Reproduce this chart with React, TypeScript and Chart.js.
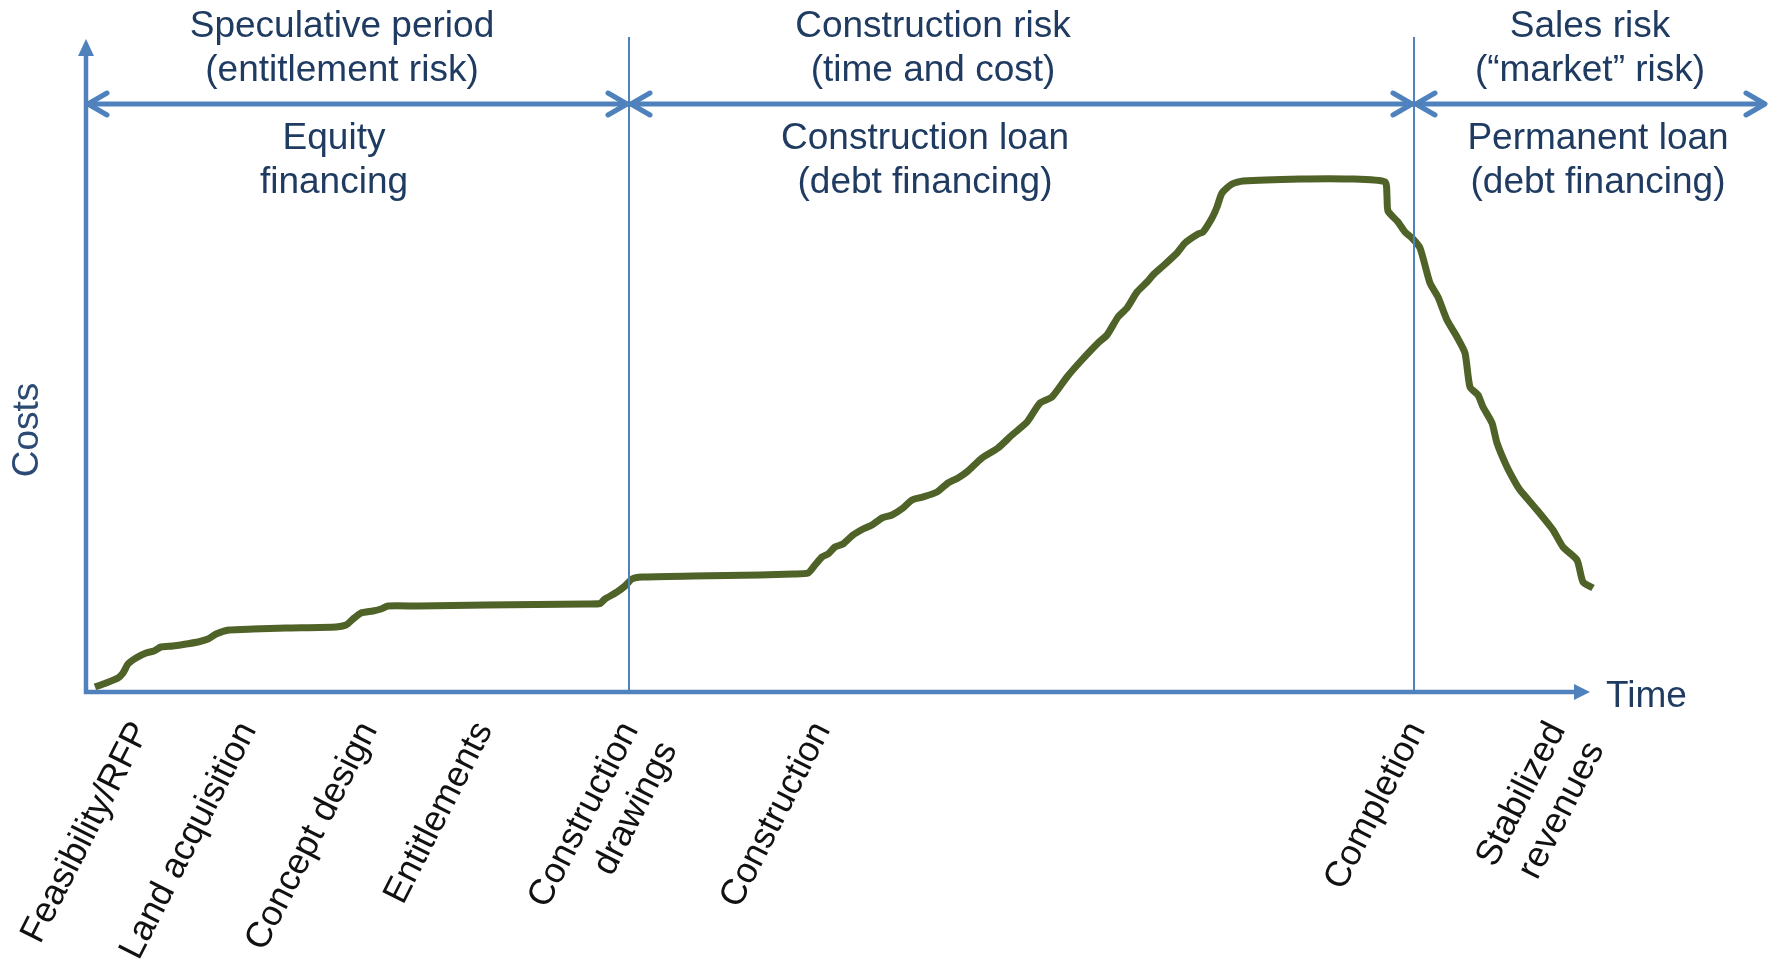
import React, { useEffect, useRef } from 'react';
import { Chart, registerables } from 'chart.js';

Chart.register(...registerables);

// Time (arbitrary units from the origin) and cumulative cost (arbitrary units)
const timeValues = [
  9, 20, 32, 37, 42, 50, 60, 68, 75, 87, 100, 112, 122, 130, 143, 167, 200, 250, 260, 267,
  275, 287, 295, 302, 333, 400, 500, 514, 519, 531, 539, 546, 556, 607, 674, 707, 722, 729,
  736, 742, 749, 757, 767, 777, 786, 796, 806, 817, 826, 837, 851, 862, 872, 882, 896, 912,
  926, 941, 954, 966, 981, 994, 1012, 1021, 1032, 1041, 1051, 1061, 1067, 1077, 1091, 1099,
  1112, 1117, 1126, 1131, 1136, 1146, 1157, 1214, 1264, 1299, 1301, 1302, 1312, 1319, 1326,
  1334, 1344, 1352, 1361, 1371, 1379, 1384, 1392, 1397, 1406, 1411, 1421, 1429, 1434, 1451,
  1467, 1477, 1491, 1497, 1507,
];
const costValues = [
  5, 9, 14, 19, 28, 34, 39, 41, 45, 46, 48, 50, 53, 58, 62, 63, 64, 65, 67, 73,
  79, 81, 83, 86, 86, 87, 88, 88.5, 93, 100, 106, 113, 115, 116, 117, 118, 119, 127,
  135, 138, 145, 148, 157, 163, 167, 174, 177, 184, 192, 195, 200, 209, 214, 221, 234, 244,
  257, 270, 289, 295, 315, 330, 349, 357, 375, 384, 400, 410, 417, 426, 439, 449,
  458, 460, 474, 485, 499, 508, 511, 513, 513, 510, 495, 481, 470, 460, 454,
  444, 409, 395, 372, 355, 339, 305, 297, 285, 269, 249, 225, 210, 202, 182,
  162, 145, 132, 110, 104,
];

// Milestones on the time axis
const milestoneValues = [55, 162, 283, 398, 544, 736, 1331, 1471];
const milestoneLabels: (string | string[])[] = [
  'Feasibility/RFP',
  'Land acquisition',
  'Concept design',
  'Entitlements',
  ['Construction', 'drawings'],
  'Construction',
  'Completion',
  ['Stabilized', 'revenues'],
];

// Phases
const phaseBoundaries = [2, 543, 1328, 1679];
const riskLabels = [
  ['Speculative period', '(entitlement risk)'],
  ['Construction risk', '(time and cost)'],
  ['Sales risk', '(\u201Cmarket\u201D risk)'],
];
const financingLabels = [
  ['Equity', 'financing'],
  ['Construction loan', '(debt financing)'],
  ['Permanent loan', '(debt financing)'],
];

const X_MAX = 1514;
const Y_MAX = 524;
const AXIS_ARROW_X = 1504;
const FONT = '"Liberation Sans", Arial, Helvetica, sans-serif';
const BLUE = '#4F81BD';
const TEXT_BLUE = '#1F3B61';

const riskCenters = [256, 847, 1504];
const financingCenters = [248, 839, 1512];

const overlayPlugin = {
  id: 'overlay',
  afterDraw(chart: any) {
    const { ctx, scales } = chart;
    const x = scales.x;
    const y = scales.y;
    const x0 = x.getPixelForValue(0);
    const y0 = y.getPixelForValue(0);
    ctx.save();

    // phase dividers
    ctx.strokeStyle = BLUE;
    ctx.lineWidth = 2;
    for (const b of [phaseBoundaries[1], phaseBoundaries[2]]) {
      const px = x.getPixelForValue(b);
      ctx.beginPath();
      ctx.moveTo(px, 37);
      ctx.lineTo(px, y0);
      ctx.stroke();
    }

    // axes
    ctx.lineWidth = 4.5;
    ctx.fillStyle = BLUE;
    ctx.beginPath();
    ctx.moveTo(x0, y0 + 2);
    ctx.lineTo(x0, 54);
    ctx.stroke();
    ctx.beginPath();
    ctx.moveTo(x0, 39);
    ctx.lineTo(x0 - 8, 56);
    ctx.lineTo(x0 + 8, 56);
    ctx.closePath();
    ctx.fill();

    const tip = x.getPixelForValue(AXIS_ARROW_X);
    ctx.beginPath();
    ctx.moveTo(x0 - 2, y0);
    ctx.lineTo(tip - 12, y0);
    ctx.stroke();
    ctx.beginPath();
    ctx.moveTo(tip, y0);
    ctx.lineTo(tip - 16, y0 - 8);
    ctx.lineTo(tip - 16, y0 + 8);
    ctx.closePath();
    ctx.fill();

    // top double arrows
    const ay = 104;
    ctx.lineWidth = 5;
    ctx.lineCap = 'round';
    ctx.lineJoin = 'round';
    const left = x.getPixelForValue(phaseBoundaries[0]);
    const right = x.getPixelForValue(phaseBoundaries[3]);
    ctx.beginPath();
    ctx.moveTo(left + 2, ay);
    ctx.lineTo(right - 2, ay);
    ctx.stroke();
    const chevron = (px: number, dir: number) => {
      ctx.beginPath();
      ctx.moveTo(px - dir * 19, ay - 11);
      ctx.lineTo(px, ay);
      ctx.lineTo(px - dir * 19, ay + 11);
      ctx.stroke();
    };
    for (let i = 0; i < phaseBoundaries.length - 1; i++) {
      chevron(x.getPixelForValue(phaseBoundaries[i]) + (i === 0 ? 0 : 2), -1);
      chevron(x.getPixelForValue(phaseBoundaries[i + 1]) - (i === phaseBoundaries.length - 2 ? 0 : 2), 1);
    }

    // texts
    ctx.fillStyle = TEXT_BLUE;
    ctx.font = `37px ${FONT}`;
    ctx.textAlign = 'center';
    ctx.textBaseline = 'middle';
    riskLabels.forEach((lines, i) => {
      const cx = x.getPixelForValue(riskCenters[i]);
      ctx.fillText(lines[0], cx, 27);
      ctx.fillText(lines[1], cx, 71);
    });
    financingLabels.forEach((lines, i) => {
      const cx = x.getPixelForValue(financingCenters[i]);
      ctx.fillText(lines[0], cx, 139);
      ctx.fillText(lines[1], cx, 183);
    });
    ctx.textAlign = 'left';
    ctx.fillText('Time', tip + 16, y0 + 5);
    ctx.restore();
  },
};

export default function App() {
  const canvasRef = useRef<HTMLCanvasElement | null>(null);

  useEffect(() => {
    document.body.style.margin = '0';
    const canvas = canvasRef.current;
    if (!canvas) return;
    const chart = new Chart(canvas, {
      type: 'line',
      data: {
        datasets: [
          {
            label: 'Costs',
            data: timeValues.map((t, i) => ({ x: t, y: costValues[i] })),
            borderColor: '#4F6228',
            borderWidth: 7,
            pointRadius: 0,
            tension: 0.2,
            borderJoinStyle: 'round',
            borderCapStyle: 'butt',
            fill: false,
          },
        ],
      },
      options: {
        responsive: false,
        animation: false,
        events: [],
        layout: { padding: { top: 168, right: 174, left: 0, bottom: 0 } },
        plugins: {
          legend: { display: false },
          tooltip: { enabled: false },
        },
        scales: {
          x: {
            type: 'linear',
            min: 0,
            max: X_MAX,
            grid: { display: false, drawTicks: false },
            border: { display: false },
            afterBuildTicks: (scale: any) => {
              scale.ticks = milestoneValues.map((v) => ({ value: v }));
            },
            afterFit: (scale: any) => {
              scale.height = 287;
            },
            ticks: {
              autoSkip: false,
              minRotation: 63,
              maxRotation: 63,
              padding: 23,
              color: '#111111',
              font: { family: FONT, size: 36 },
              callback: (_v: any, i: number) => milestoneLabels[i],
            },
          },
          y: {
            type: 'linear',
            min: 0,
            max: Y_MAX,
            grid: { display: false, drawTicks: false },
            border: { display: false },
            ticks: { display: false },
            afterFit: (scale: any) => {
              scale.width = 86;
            },
            title: {
              display: true,
              text: 'Costs',
              color: '#2B4A74',
              font: { family: FONT, size: 37 },
              padding: { top: 6, bottom: 0 },
            },
          },
        },
      },
      plugins: [overlayPlugin],
    });
    return () => chart.destroy();
  }, []);

  return (
    <div style={{ width: 1774, height: 979, overflow: 'hidden' }}>
      <canvas ref={canvasRef} width={1774} height={979} style={{ display: 'block' }} />
    </div>
  );
}
